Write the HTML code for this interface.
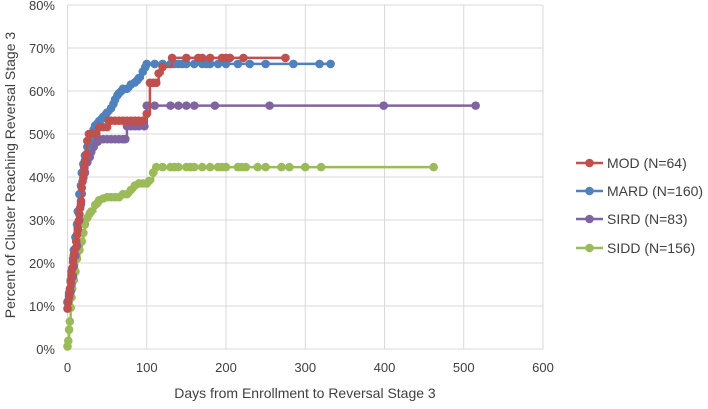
<!DOCTYPE html>
<html><head><meta charset="utf-8"><style>
body{margin:0;background:#fff}
svg text{font-family:"Liberation Sans",sans-serif;fill:#404040}
</style></head><body>
<svg id="c" width="708" height="404"></svg>
<script>
const seriesNames=["MOD (N=64)","MARD (N=160)","SIRD (N=83)","SIDD (N=156)"];
const seriesColors=["#C0504D","#4F81BD","#8064A2","#9BBB59"];
const xTicks=[0,100,200,300,400,500,600];
const yTicks=[0,10,20,30,40,50,60,70,80];
const modDays=[0,1,2,3,4,5,6,7,8,10,11,12,13,14,15,16,17,18,19,20,21,22,24,25,27,30,35,40,45,50,52,55,60,65,70,75,80,85,90,95,100,104,108,112,115,120,132,150,165,170,180,195,200,205,222,275];
const modPct=[9.4,10.9,12.5,14,15.6,17.2,18.8,20.3,21.9,23.4,25,26.6,28.1,29.7,31.3,32.8,34.4,37.5,39,40.6,42.2,43.8,45.3,48.4,50,50,50,51.6,51.6,51.6,53.1,53.1,53.1,53.1,53.1,53.1,53.1,53.1,53.1,53.1,54.7,61.9,61.9,61.9,64.1,65.6,67.7,67.7,67.7,67.7,67.7,67.7,67.7,67.7,67.7,67.7];
const mardDays=[0,2,4,5,7,8,10,12,13,15,17,18,20,22,25,27,30,33,35,38,40,43,45,48,50,55,58,60,63,65,68,70,75,80,85,88,90,95,98,100,110,120,130,135,140,145,150,160,170,175,180,190,200,215,230,250,285,318,332];
const mardPct=[11,13,16,18,21,23,26,29,32,36,38,41,43,45,47,48.5,50,51,52,52.5,53,53.5,54,54.5,55,56,57,58,59,59.5,60,60.5,60.5,61.5,62,62.5,63,64.5,65.5,66.3,66.3,66.3,66.3,66.3,66.3,66.3,66.3,66.3,66.3,66.3,66.3,66.3,66.3,66.3,66.3,66.3,66.3,66.3,66.3];
const sirdDays=[0,2,4,5,7,8,10,12,13,15,17,18,20,22,25,28,30,33,35,38,40,45,50,55,60,65,70,73,75,80,85,90,97,100,110,130,140,150,160,186,255,399,515];
const sirdPct=[10.8,12,13.3,15,16.9,19.3,21.7,24,27.7,30,33.7,36.1,39.8,41,43.4,44.6,45.8,47,48.2,48.2,48.8,48.8,48.8,48.8,48.8,48.8,48.8,48.8,51.8,51.8,51.8,51.8,51.8,56.6,56.6,56.6,56.6,56.6,56.6,56.6,56.6,56.6,56.6];
const siddDays=[0,1,2,3,4,5,6,8,10,12,15,18,20,22,25,28,30,35,38,40,45,50,55,60,65,70,75,80,85,90,95,100,103,108,112,120,130,135,140,150,155,160,170,180,190,195,200,215,220,225,240,250,270,280,300,320,462];
const siddPct=[0.6,1.9,4.5,6.4,9.6,12,14,16,18,21,23,25,27,29,30.5,31.5,32,33.5,34,34.6,35,35.3,35.3,35.3,35.3,36,36,37,38,38.5,38.5,38.5,39.1,41,42.3,42.3,42.3,42.3,42.3,42.3,42.3,42.3,42.3,42.3,42.3,42.3,42.3,42.3,42.3,42.3,42.3,42.3,42.3,42.3,42.3,42.3,42.3];
const seriesDays=[modDays,mardDays,sirdDays,siddDays];
const seriesPct=[modPct,mardPct,sirdPct,siddPct];

const X0=67.5,X1=543,Y0=349,Y1=5;
const xs=d=>X0+(d/600)*(X1-X0);
const ys=p=>Y0-(p/80)*(Y0-Y1);
const svg=document.getElementById('c');
const NS='http://www.w3.org/2000/svg';
function mk(t,a,p){const e=document.createElementNS(NS,t);for(const k in a)e.setAttribute(k,a[k]);(p||svg).appendChild(e);return e;}

yTicks.forEach(v=>{
  const l=mk('line',{x1:X0,x2:X1,y1:ys(v),y2:ys(v),stroke:'#d9d9d9','stroke-width':1});
  
  
  const t=mk('text',{x:55,y:ys(v)+5,'text-anchor':'end','font-size':13});
  t.textContent=v+'%';
  
  
});
xTicks.forEach(v=>{
  const l=mk('line',{x1:xs(v),x2:xs(v),y1:Y1,y2:Y0,stroke:'#d9d9d9','stroke-width':1});
  
  
  const t=mk('text',{x:xs(v),y:372,'text-anchor':'middle','font-size':13});
  t.textContent=v;
  
  
});
const xt=mk('text',{x:305,y:398,'text-anchor':'middle','font-size':14});
xt.textContent='Days from Enrollment to Reversal Stage 3';


const yt=mk('text',{x:0,y:0,'text-anchor':'middle','font-size':14,transform:'translate(15,175) rotate(-90)'});
yt.textContent='Percent of Cluster Reaching Reversal Stage 3';



for(let s=3;s>=0;s--){
  const g=mk('g',{});
  
  
  const d=seriesDays[s],p=seriesPct[s];
  let path='';
  for(let i=0;i<d.length;i++){
    if(i===0)path+='M'+xs(d[i])+' '+ys(p[i]);
    else path+=' L'+xs(d[i])+' '+ys(p[i-1])+' L'+xs(d[i])+' '+ys(p[i]);
  }
  mk('path',{d:path,fill:'none',stroke:seriesColors[s],'stroke-width':2.5},g);
  for(let i=0;i<d.length;i++){
    const c=mk('circle',{cx:xs(d[i]),cy:ys(p[i]),r:4.3,fill:seriesColors[s]},g);
    
    
  }
}
const legY=[163,191,219,248];
seriesNames.forEach((n,i)=>{
  const g=mk('g',{});
  
  
  mk('line',{x1:576,x2:603,y1:legY[i],y2:legY[i],stroke:seriesColors[i],'stroke-width':2.5},g);
  mk('circle',{cx:589.5,cy:legY[i],r:4.3,fill:seriesColors[i]},g);
  const t=mk('text',{x:607,y:legY[i]+5,'font-size':14},g);
  t.textContent=n;
});
</script>
</body></html>
